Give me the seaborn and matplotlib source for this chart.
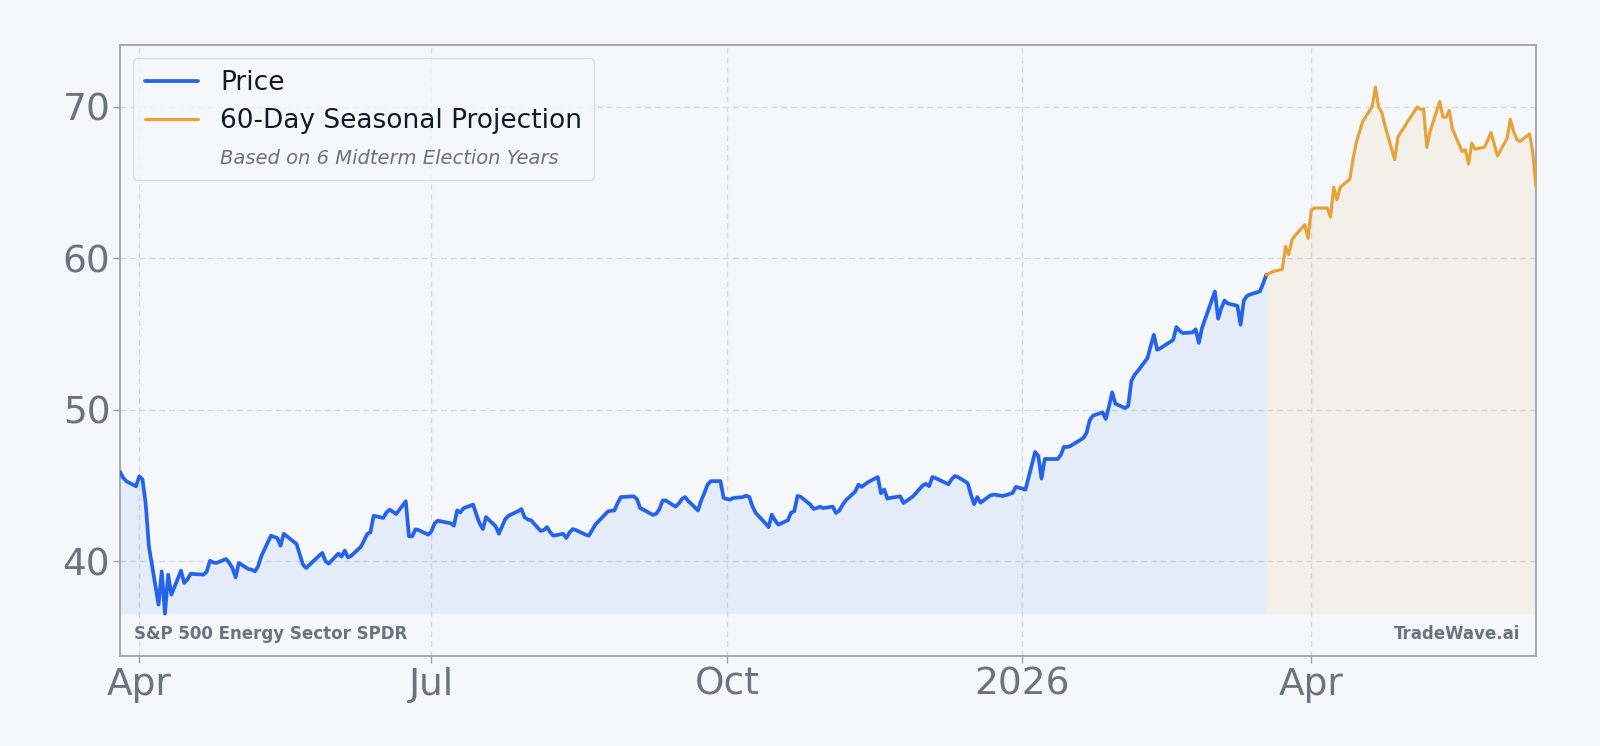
import numpy as np
import pandas as pd
import matplotlib
matplotlib.use("Agg")
import matplotlib.pyplot as plt
import matplotlib.dates as mdates
from matplotlib.lines import Line2D
from matplotlib.ticker import MultipleLocator, FuncFormatter
import seaborn as sns

# ---------------- data ----------------
market_holidays = ["2025-04-18", "2025-05-26", "2025-06-19", "2025-07-04", "2025-09-01",
                   "2025-11-27", "2025-12-25", "2026-01-01", "2026-01-19", "2026-02-16"]
price_start = "2025-03-26"
price_end = "2026-03-18"

price_values = [
    # 2025-03
    45.9, 45.5, 45.27, 44.94,
    # 2025-04
    45.6, 45.4, 43.8, 40.98, 37.13, 39.33, 36.54, 39.11, 37.79, 39.37, 38.56, 38.8, 39.17,
    39.11, 39.3, 40.03, 39.92, 39.88, 40.14, 39.9, 39.55,
    # 2025-05
    38.93, 39.88, 39.48, 39.44, 39.33, 39.66, 40.32, 41.68, 41.6, 41.53, 41.02, 41.81, 41.3,
    41.13, 40.43, 39.77, 39.55, 40.36, 40.54, 40.0, 39.84,
    # 2025-06
    40.5, 40.3, 40.7, 40.25, 40.35, 40.95, 41.35, 41.8, 41.9, 43.0, 42.85, 43.22, 43.4,
    43.11, 43.95, 41.64, 41.64, 42.1, 42.05, 41.75,
    # 2025-07
    41.97, 42.5, 42.67, 42.5, 42.34, 43.35, 43.22, 43.5, 43.73, 43.07, 42.5, 42.12, 42.91,
    42.3, 41.81, 42.3, 42.78, 43.0, 43.3, 43.44, 42.9, 42.75,
    # 2025-08
    42.7, 42.0, 42.05, 42.25, 41.9, 41.68, 41.81, 41.53, 41.9, 42.12, 42.05, 41.75, 41.68,
    42.03, 42.4, 42.63, 43.29, 43.33, 43.35, 43.84, 44.23,
    # 2025-09
    44.28, 44.1, 43.5, 43.4, 43.05, 43.13, 43.44, 44.0, 44.0, 43.6, 43.8, 44.1, 44.23,
    43.97, 43.35, 44.0, 44.5, 45.05, 45.28, 45.28, 44.17,
    # 2025-10
    44.1, 44.06, 44.17, 44.23, 44.32, 44.23, 43.6, 43.18, 42.5, 42.25, 43.07, 42.7, 42.41,
    42.7, 43.2, 43.3, 44.3, 44.25, 43.73, 43.45, 43.5, 43.6, 43.5,
    # 2025-11
    43.6, 43.18, 43.33, 43.7, 44.0, 44.6, 45.05, 44.9, 45.07, 45.22, 45.55, 44.48, 44.73,
    44.13, 44.18, 44.28, 43.84, 43.98, 44.28,
    # 2025-12
    45.0, 45.1, 44.95, 45.55, 45.48, 45.18, 45.08, 45.4, 45.62, 45.55, 45.15, 44.4, 43.76,
    44.23, 43.86, 44.33, 44.39, 44.37, 44.3, 44.5, 44.9, 44.85,
    # 2026-01
    44.72, 47.2, 46.95, 45.45, 46.74, 46.74, 46.74, 47.0, 47.55, 47.53, 47.6, 48.12, 48.46,
    49.3, 49.6, 49.82, 49.38, 50.2, 51.14, 50.39,
    # 2026-02
    50.1, 50.25, 51.9, 52.3, 52.55, 53.4, 54.2, 54.94, 53.95, 54.05, 54.6, 55.45, 55.2,
    55.05, 55.09, 55.3, 54.4, 55.4, 56.0,
    # 2026-03
    57.8, 56.0, 56.7, 57.2, 57.0, 56.85, 55.6, 57.2, 57.5, 57.6, 57.8, 58.3, 58.9,
]

# projection starts at the last price point (2026-03-18)
proj_start = "2026-03-18"
proj_values = [
    58.9, 59.0, 59.1, 59.27, 60.77, 60.22, 61.2, 61.5, 62.2, 61.3,
    63.14, 63.3, 63.3, 63.3, 62.7, 64.67, 63.84, 64.67, 65.2, 66.5,
    67.6, 68.3, 69.0, 70.0, 71.28, 69.96, 69.6, 68.7, 66.5, 68.0,
    68.35, 68.64, 69.0, 69.96, 69.82, 69.82, 67.3, 68.35, 70.33, 69.3,
    69.3, 69.74, 68.5, 67.03, 67.14, 66.2, 67.58, 67.19, 67.32, 67.8,
    68.29, 67.5, 66.75, 67.9, 69.16, 68.35, 67.84, 67.69, 68.2, 66.97,
    64.7,
]

legend_labels = ["Price", "60-Day Seasonal Projection", "Based on 6 Midterm Election Years"]
footer_left = "S&P 500 Energy Sector SPDR"
footer_right = "TradeWave.ai"

# ---------------- frames ----------------
price_dates = pd.bdate_range(price_start, price_end, freq="C", holidays=market_holidays)
proj_dates = pd.bdate_range(proj_start, periods=len(proj_values))
n = min(len(price_dates), len(price_values))
df_price = pd.DataFrame({"date": price_dates[:n], "value": price_values[:n]})
df_proj = pd.DataFrame({"date": proj_dates, "value": proj_values})

# ---------------- style ----------------
BG = "#f5f7fa"
BLUE = "#2563eb"
FILL_BLUE = "#3b82f6"
ORANGE = "#e8a23a"
GRID = "#d6dae1"
SPINE = "#9ca3af"
TICK = "#6b7280"

sns.set_theme(style="white", rc={"axes.facecolor": BG, "figure.facecolor": BG})
plt.rcParams["font.family"] = ["DejaVu Sans"]

fig = plt.figure(figsize=(16, 7.46), dpi=100)
ax = fig.add_axes([0.075, 0.121, 0.885, 0.8187])
ax.set_facecolor(BG)

all_vals = np.concatenate([df_price["value"].values, df_proj["value"].values])
vmin, vmax = all_vals.min(), all_vals.max()
rng = vmax - vmin
base = vmin

ax.fill_between(df_price["date"], base, df_price["value"], color=FILL_BLUE, alpha=0.09, lw=0, zorder=1)
ax.fill_between(df_proj["date"], base, df_proj["value"], color=ORANGE, alpha=0.08, lw=0, zorder=1)

sns.lineplot(data=df_price, x="date", y="value", color=BLUE, lw=2.7, ax=ax, zorder=3, legend=False)
sns.lineplot(data=df_proj, x="date", y="value", color=ORANGE, lw=2.3, ax=ax, zorder=3, legend=False)

ax.set_xlim(df_price["date"].iloc[0], df_proj["date"].iloc[-1])
ax.set_ylim(vmin - 0.08 * rng, vmax + 0.08 * rng)
ax.set_xlabel("")
ax.set_ylabel("")

ax.yaxis.set_major_locator(MultipleLocator(10))
ax.xaxis.set_major_locator(mdates.MonthLocator(bymonth=[1, 4, 7, 10]))


def date_fmt(x, pos):
    d = mdates.num2date(x)
    return str(d.year) if d.month == 1 else d.strftime("%b")


ax.xaxis.set_major_formatter(FuncFormatter(date_fmt))

ax.grid(True, which="major", ls=(0, (4, 3)), color=GRID, lw=1.0)
ax.set_axisbelow(True)
for s in ax.spines.values():
    s.set_visible(True)
    s.set_color(SPINE)
    s.set_linewidth(1.3)
ax.tick_params(axis="both", which="major", labelsize=27, labelcolor=TICK, color=SPINE,
               length=5, width=1, direction="out", bottom=True, left=True)
ax.tick_params(axis="x", pad=3)
ax.tick_params(axis="y", pad=2)

handles = [Line2D([], [], color=BLUE, lw=2.7),
           Line2D([], [], color=ORANGE, lw=2.3),
           Line2D([], [], color="none", lw=0)]
leg = ax.legend(handles, legend_labels, loc="upper left", fontsize=19, handlelength=2.0,
                frameon=True, fancybox=True, framealpha=0.85, facecolor=BG,
                edgecolor="#d5d9e0", borderpad=0.45, labelspacing=0.45, handletextpad=0.85,
                borderaxespad=0.5)
leg.get_frame().set_linewidth(1.0)
for t in leg.get_texts()[:2]:
    t.set_color("#111827")
sub = leg.get_texts()[2]
sub.set_fontstyle("italic")
sub.set_fontsize(14)
sub.set_color(TICK)

ax.text(0.0097, 0.036, footer_left, transform=ax.transAxes, fontsize=12, fontweight="bold",
        color=TICK, ha="left", va="center", zorder=5)
ax.text(0.989, 0.036, footer_right, transform=ax.transAxes, fontsize=12, fontweight="bold",
        color=TICK, ha="right", va="center", zorder=5)

fig.savefig("out.png", dpi=100, facecolor=BG)
